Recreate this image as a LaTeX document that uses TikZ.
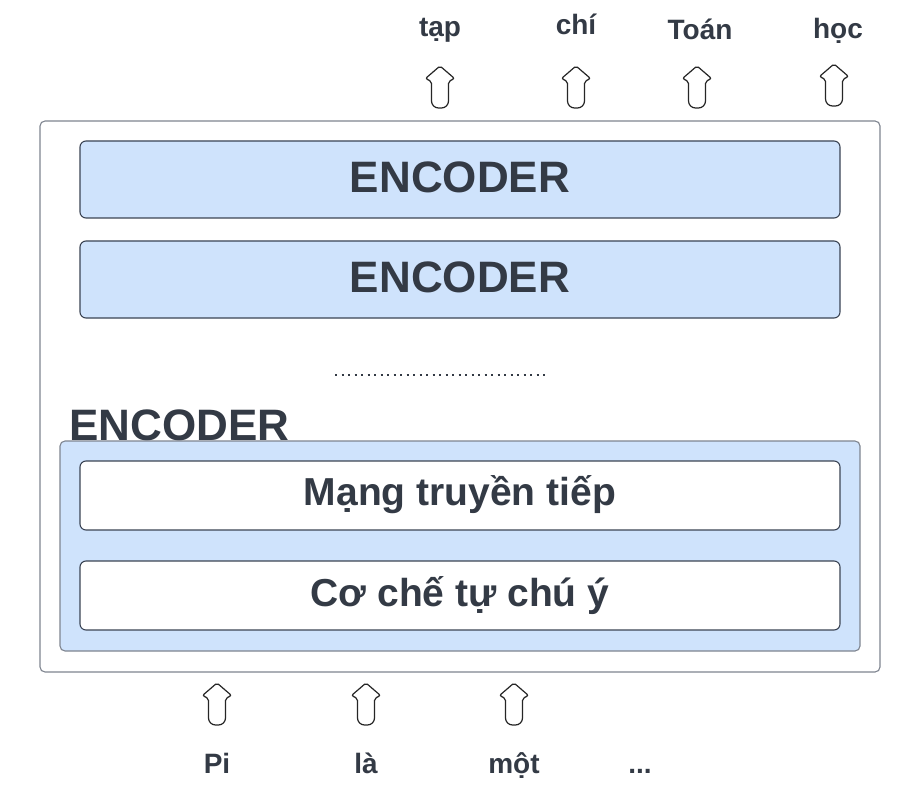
\documentclass[tikz,border=0pt]{standalone}
\usepackage{fontspec}
\setmainfont{Liberation Sans}
\definecolor{txt}{HTML}{333A45}
\definecolor{bluefill}{HTML}{CFE3FC}
\definecolor{darkedge}{HTML}{3B4454}
\definecolor{grayedge}{HTML}{7F8590}
\begin{document}
\begin{tikzpicture}[x=1pt,y=-1pt,
  outerbox/.style={draw=grayedge,line width=1.1pt,fill=white,rounded corners=5pt},
  encbox/.style={draw=darkedge,line width=1.1pt,fill=bluefill,rounded corners=6pt},
  layerbox/.style={draw=darkedge,line width=1.1pt,fill=white,rounded corners=6pt},
  innerbox/.style={draw=grayedge,line width=1.1pt,fill=bluefill,rounded corners=5pt},
  bigtxt/.style={font=\fontsize{44}{44}\selectfont\bfseries,text=txt,inner sep=0pt,anchor=base},
  midtxt/.style={font=\fontsize{39}{39}\selectfont\bfseries,text=txt,inner sep=0pt,anchor=base},
  wordtxt/.style={font=\fontsize{28}{28}\selectfont\bfseries,text=txt,inner sep=0pt,anchor=base},
  blockarrow/.pic={
    \draw[line width=1.2pt,draw=black!85,fill=white] (0,0) [rounded corners=2pt] -- (14.5,12.5) -- (8.5,15.5)
      [rounded corners=7pt] -- (8.5,42) -- (-8.5,42) [rounded corners=2pt] -- (-8.5,15.5) -- (-14.5,12.5) -- cycle;
  }]
\useasboundingbox (0,0) rectangle (917,791);
\fill[white] (0,0) rectangle (917,791);

% outer frame
\draw[outerbox] (40,121) rectangle (880,672);

% stacked encoders
\draw[encbox] (80,141) rectangle (840,218);
\node[bigtxt] (enc1) at (460,193) {ENCODER};
\draw[encbox] (80,241) rectangle (840,318);
\node[bigtxt] (enc2) at (460,293) {ENCODER};

% dots
\draw[line width=2.2pt,draw=txt,dash pattern=on 2.2pt off 4.3pt] (335,375) -- (547,375);

% detailed encoder
\node[bigtxt,anchor=base west] (enclabel) at (69,440) {ENCODER};
\draw[innerbox] (60,441) rectangle (860,651);
\draw[layerbox] (80,461) rectangle (840,530);
\node[midtxt] (ffn) at (460,505) {Mạng truyền tiếp};
\draw[layerbox] (80,561) rectangle (840,630);
\node[midtxt] (att) at (460,606) {Cơ chế tự chú ý};

% output words and arrows
\node[wordtxt] (o1) at (440,37) {tạp};
\node[wordtxt] (o2) at (576,35) {chí};
\node[wordtxt] (o3) at (700,40) {Toán};
\node[wordtxt] (o4) at (838,39) {học};
\pic at (440,66) {blockarrow};
\pic at (576,66) {blockarrow};
\pic at (697,66) {blockarrow};
\pic at (834,64) {blockarrow};

% input words and arrows
\pic at (217,683) {blockarrow};
\pic at (366,683) {blockarrow};
\pic at (514,683) {blockarrow};
\node[wordtxt] (i1) at (217,773) {Pi};
\node[wordtxt] (i2) at (366,773) {là};
\node[wordtxt] (i3) at (514,773) {một};
\node[wordtxt] (i4) at (640,773) {...};
\end{tikzpicture}
\end{document}
